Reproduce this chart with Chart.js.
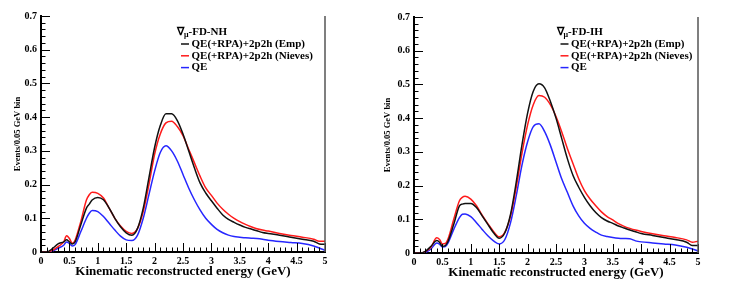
<!DOCTYPE html>
<html>
<head>
<meta charset="utf-8">
<script src="https://cdn.jsdelivr.net/npm/chart.js@4.4.1/dist/chart.umd.min.js"></script>
<style>
  body { margin: 0; background: #fff; }
  #wrap { position: relative; width: 736px; height: 300px; }
  canvas { position: absolute; top: 0; }
</style>
</head>
<body>
<div id="wrap">
  <canvas id="chartNH" width="370" height="300" style="left:0"></canvas>
  <canvas id="chartIH" width="366" height="300" style="left:370px"></canvas>
</div>
<script>
// energy points (GeV)
const energy = [0, 0.1, 0.2, 0.3, 0.4, 0.45, 0.5, 0.55, 0.6, 0.7,
  0.8, 0.85, 0.9, 1.0, 1.1, 1.2, 1.3, 1.4, 1.5, 1.6,
  1.7, 1.8, 1.9, 2.0, 2.1, 2.2, 2.3, 2.4, 2.5, 2.6,
  2.7, 2.8, 2.9, 3.0, 3.1, 3.2, 3.3, 3.4, 3.5, 3.6,
  3.7, 3.8, 3.9, 4.0, 4.2, 4.4, 4.6, 4.8, 4.9, 5.0];

const seriesNames = ["QE(+RPA)+2p2h (Emp)", "QE(+RPA)+2p2h (Nieves)", "QE"];
const seriesColors = ["#111111", "#ff1a1a", "#2626ff"];

// normal hierarchy
const nhEmp = [0, 0, 0.01, 0.024, 0.03, 0.036, 0.03, 0.024, 0.03, 0.08,
  0.13, 0.142, 0.154, 0.162, 0.155, 0.13, 0.1, 0.075, 0.057, 0.05,
  0.07, 0.13, 0.22, 0.31, 0.375, 0.41, 0.41, 0.39, 0.35, 0.3,
  0.25, 0.205, 0.175, 0.152, 0.13, 0.11, 0.097, 0.088, 0.08, 0.073,
  0.068, 0.063, 0.058, 0.055, 0.05, 0.044, 0.038, 0.032, 0.024, 0.023];
const nhNieves = [0, 0, 0.005, 0.016, 0.03, 0.048, 0.04, 0.026, 0.035, 0.09,
  0.154, 0.17, 0.177, 0.174, 0.16, 0.13, 0.1, 0.077, 0.061, 0.055,
  0.07, 0.12, 0.2, 0.29, 0.35, 0.383, 0.388, 0.372, 0.345, 0.305,
  0.265, 0.225, 0.19, 0.168, 0.145, 0.127, 0.112, 0.1, 0.09, 0.082,
  0.075, 0.069, 0.065, 0.062, 0.055, 0.049, 0.044, 0.038, 0.032, 0.032];
const nhQE = [0, 0, 0.003, 0.011, 0.02, 0.03, 0.025, 0.018, 0.022, 0.06,
  0.1, 0.115, 0.123, 0.12, 0.105, 0.085, 0.065, 0.047, 0.036, 0.034,
  0.05, 0.1, 0.17, 0.24, 0.295, 0.315, 0.3, 0.27, 0.23, 0.19,
  0.155, 0.125, 0.1, 0.082, 0.067, 0.057, 0.05, 0.046, 0.044, 0.042,
  0.041, 0.04, 0.038, 0.035, 0.031, 0.028, 0.025, 0.018, 0.012, 0.005];

// inverted hierarchy
const ihEmp = [0, 0, 0.005, 0.02, 0.037, 0.032, 0.02, 0.022, 0.035, 0.085,
  0.14, 0.145, 0.147, 0.147, 0.135, 0.11, 0.085, 0.06, 0.044, 0.06,
  0.115, 0.21, 0.32, 0.415, 0.48, 0.502, 0.49, 0.45, 0.4, 0.34,
  0.28, 0.23, 0.195, 0.165, 0.14, 0.12, 0.105, 0.095, 0.088, 0.08,
  0.074, 0.068, 0.063, 0.058, 0.052, 0.046, 0.04, 0.032, 0.022, 0.022];
const ihNieves = [0, 0, 0.004, 0.018, 0.045, 0.04, 0.027, 0.028, 0.042, 0.1,
  0.155, 0.165, 0.168, 0.16, 0.14, 0.112, 0.087, 0.064, 0.048, 0.062,
  0.11, 0.195, 0.295, 0.38, 0.44, 0.467, 0.462, 0.44, 0.405, 0.36,
  0.31, 0.265, 0.22, 0.185, 0.16, 0.14, 0.122, 0.108, 0.098, 0.087,
  0.079, 0.073, 0.068, 0.064, 0.057, 0.051, 0.046, 0.039, 0.032, 0.035];
const ihQE = [0, 0, 0.002, 0.012, 0.03, 0.026, 0.018, 0.019, 0.03, 0.07,
  0.105, 0.115, 0.116, 0.108, 0.09, 0.07, 0.051, 0.036, 0.027, 0.04,
  0.09, 0.17, 0.26, 0.33, 0.375, 0.383, 0.36, 0.32, 0.27, 0.22,
  0.18, 0.14, 0.11, 0.088, 0.073, 0.062, 0.053, 0.049, 0.046, 0.044,
  0.043, 0.042, 0.036, 0.033, 0.03, 0.027, 0.024, 0.017, 0.012, 0.006];

const xTicks = [0, 0.5, 1, 1.5, 2, 2.5, 3, 3.5, 4, 4.5, 5];
const yTicks = [0, 0.1, 0.2, 0.3, 0.4, 0.5, 0.6, 0.7];

Chart.defaults.font.family = '"Liberation Serif", "Times New Roman", serif';
Chart.defaults.font.weight = 'bold';
Chart.defaults.color = '#000';

// ROOT style: inward ticks + right frame
const rootFrame = {
  id: 'rootFrame',
  afterDraw(chart) {
    const {ctx, chartArea: a, scales: {x, y}} = chart;
    ctx.save();
    ctx.strokeStyle = '#000';
    ctx.lineWidth = 1;
    ctx.beginPath();
    for (let i = 0; i <= 50; i++) {
      const px = Math.round(x.getPixelForValue(i * 0.1)) + 0.5;
      const len = i % 5 === 0 ? 9 : 4.5;
      ctx.moveTo(px, a.bottom);
      ctx.lineTo(px, a.bottom - len);
    }
    for (let i = 0; i <= 35; i++) {
      const py = Math.round(y.getPixelForValue(i * 0.02)) + 0.5;
      const len = i % 5 === 0 ? 9 : 4.5;
      ctx.moveTo(a.left, py);
      ctx.lineTo(a.left + len, py);
    }
    ctx.stroke();
    ctx.strokeStyle = '#555';
    ctx.lineWidth = 1.5;
    ctx.beginPath();
    ctx.moveTo(a.right, a.top);
    ctx.lineTo(a.right, a.bottom);
    ctx.stroke();
    ctx.restore();
  }
};

// legend drawn like the ROOT TLegend
const rootLegend = {
  id: 'rootLegend',
  afterDraw(chart, args, opts) {
    const {ctx, chartArea: a} = chart;
    const x0 = a.left + opts.dx;
    ctx.save();
    ctx.fillStyle = '#000';
    ctx.textBaseline = 'middle';
    ctx.font = 'bold 11px "Liberation Serif", serif';
    ctx.fillText('\u2207', x0, 32);
    let w = ctx.measureText('\u2207').width;
    ctx.font = 'bold 8px "Liberation Serif", serif';
    ctx.fillText('\u03bc', x0 + w, 35);
    w += ctx.measureText('\u03bc').width;
    ctx.font = 'bold 11px "Liberation Serif", serif';
    ctx.fillText('-FD-' + opts.tag, x0 + w, 32);
    chart.data.datasets.forEach((ds, i) => {
      const yy = 44 + i * 11.8;
      ctx.strokeStyle = ds.borderColor;
      ctx.lineWidth = 1.5;
      ctx.beginPath();
      ctx.moveTo(x0 + 4, yy);
      ctx.lineTo(x0 + 12, yy);
      ctx.stroke();
      ctx.fillText(ds.label, x0 + 14.5, yy);
    });
    ctx.restore();
  }
};

function makeChart(id, series, tag, pad, yWidth, legendDx) {
  return new Chart(document.getElementById(id), {
    type: 'line',
    data: {
      datasets: series.map((s, i) => ({
        label: seriesNames[i],
        data: energy.map((e, k) => ({x: e, y: s[k]})),
        borderColor: seriesColors[i],
        borderWidth: 1.5,
        pointRadius: 0,
        cubicInterpolationMode: 'monotone',
        fill: false
      }))
    },
    options: {
      responsive: false,
      animation: false,
      layout: {padding: pad},
      plugins: {
        legend: {display: false},
        tooltip: {enabled: false},
        rootLegend: {tag: tag, dx: legendDx}
      },
      scales: {
        x: {
          type: 'linear',
          min: 0, max: 5,
          afterFit(s) { s.height = 30; },
          afterBuildTicks(s) { s.ticks = xTicks.map(v => ({value: v})); },
          grid: {display: false, drawTicks: false},
          border: {display: true, color: '#000', width: 2},
          ticks: {font: {size: 10, weight: 'bold'}, padding: 3, maxRotation: 0,
            callback: v => String(v)},
          title: {display: true, text: 'Kinematic reconstructed energy (GeV)',
            font: {size: 13, weight: 'bold'}, padding: {top: 0, bottom: 3}}
        },
        y: {
          min: 0, max: 0.7,
          afterFit(s) { s.width = yWidth; },
          afterBuildTicks(s) { s.ticks = yTicks.map(v => ({value: v})); },
          grid: {display: false, drawTicks: false},
          border: {display: true, color: '#000', width: 2},
          ticks: {font: {size: 10, weight: 'bold'}, padding: 4,
            callback: v => v === 0 ? '0' : v.toFixed(1)},
          title: {display: true, text: 'Events/0.05 GeV bin',
            font: {size: 8.5, weight: 'bold'}, padding: {top: 13, bottom: 0}}
        }
      }
    },
    plugins: [rootFrame, rootLegend]
  });
}

makeChart('chartNH', [nhEmp, nhNieves, nhQE], 'NH',
  {left: 0, right: 45, top: 16, bottom: 18}, 41, 136);
makeChart('chartIH', [ihEmp, ihNieves, ihQE], 'IH',
  {left: 0, right: 38, top: 17, bottom: 17}, 44, 142.5);
</script>
</body>
</html>
